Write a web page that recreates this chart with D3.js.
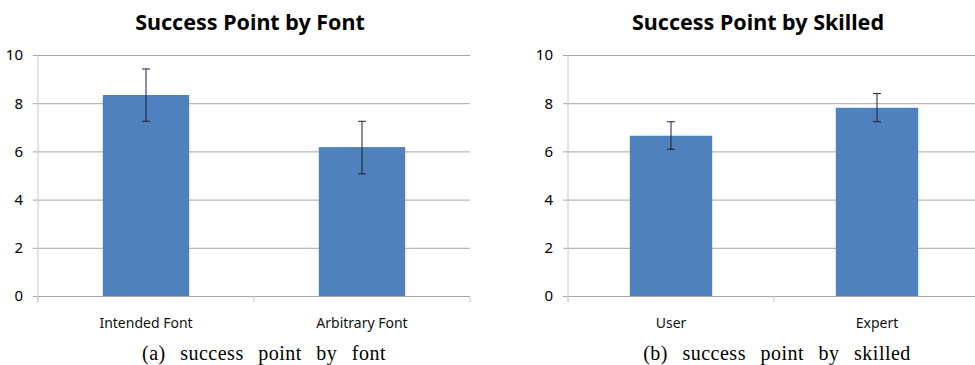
<!DOCTYPE html>
<html><head><meta charset="utf-8">
<script src="https://cdn.jsdelivr.net/npm/d3@7"></script>
<style>body{margin:0;background:#fff;}svg{display:block;}</style>
</head><body>
<svg id="c" width="975" height="365"></svg>
<script>
const yTicks = [0, 2, 4, 6, 8, 10];

const fontCategories = ["Intended Font", "Arbitrary Font"];
const fontMeans = [8.34, 6.18];
const fontErrLow = [7.25, 5.07];
const fontErrHigh = [9.42, 7.25];

const skilledCategories = ["User", "Expert"];
const skilledMeans = [6.65, 7.81];
const skilledErrLow = [6.09, 7.23];
const skilledErrHigh = [7.23, 8.40];

const titles = ["Success Point by Font", "Success Point by Skilled"];
const captions = ["(a) success point by font", "(b) success point by skilled"];

const svg = d3.select("#c");
const y = d3.scaleLinear().domain([0, 10]).range([296, 55]);

function panel(cfg) {
  const g = svg.append("g");
  const x = d3.scaleBand().domain(cfg.cats).range([cfg.x0, cfg.x1]).paddingInner(0.6).paddingOuter(0.3);
  const gridLeft = cfg.x0 - 5;

  // gridlines + y labels
  const ax = g.append("g").attr("transform", `translate(${gridLeft},0)`)
    .call(d3.axisLeft(y).tickValues(yTicks).tickFormat(d3.format("d"))
      .tickSize(-(cfg.x1 - gridLeft)).tickPadding(10));
  ax.select(".domain").remove();
  ax.selectAll(".tick line").attr("stroke", "#a6a6a6").attr("stroke-width", 1);
  ax.selectAll(".tick text").attr("fill", "#000").style("font-family", "'Noto Sans', sans-serif").style("font-size", "15px");

  // vertical axis line
  g.append("line").attr("x1", cfg.x0).attr("x2", cfg.x0).attr("y1", y(10)).attr("y2", y(0) + 6)
    .attr("stroke", "#c8c8c8");

  // category boundary ticks
  const step = x.step();
  const bounds = d3.range(cfg.cats.length + 1).map(i => cfg.x0 + i * step);
  g.selectAll(".bt").data(bounds).join("line")
    .attr("x1", d => d).attr("x2", d => d).attr("y1", y(0)).attr("y2", y(0) + 6)
    .attr("stroke", "#c8c8c8");

  // bars
  g.selectAll(".bar").data(cfg.cats).join("rect")
    .attr("x", d => x(d)).attr("width", x.bandwidth())
    .attr("y", (d, i) => y(cfg.means[i])).attr("height", (d, i) => y(0) - y(cfg.means[i]))
    .attr("fill", "#4f81bd");

  // error bars
  const eb = g.selectAll(".eb").data(cfg.cats).join("g")
    .attr("transform", d => `translate(${x(d) + x.bandwidth() / 2},0)`);
  eb.append("line").attr("y1", (d, i) => y(cfg.lo[i])).attr("y2", (d, i) => y(cfg.hi[i]))
    .attr("stroke", "#1c1c3a").attr("stroke-width", 1);
  eb.append("line").attr("x1", -4).attr("x2", 4).attr("y1", (d, i) => y(cfg.lo[i])).attr("y2", (d, i) => y(cfg.lo[i]))
    .attr("stroke", "#1c1c3a");
  eb.append("line").attr("x1", -4).attr("x2", 4).attr("y1", (d, i) => y(cfg.hi[i])).attr("y2", (d, i) => y(cfg.hi[i]))
    .attr("stroke", "#1c1c3a");

  // x labels
  g.selectAll(".xl").data(cfg.cats).join("text")
    .attr("x", d => x(d) + x.bandwidth() / 2).attr("y", 328)
    .attr("text-anchor", "middle")
    .style("font-family", "'Noto Sans', sans-serif").style("font-size", "14px")
    .attr("fill", "#111").text(d => d);

  // title
  g.append("text").attr("x", cfg.titleX).attr("y", 30).attr("text-anchor", "middle")
    .style("font-family", "'Noto Sans', sans-serif").style("font-size", "21.5px").style("font-weight", "bold")
    .attr("fill", "#000").text(cfg.title);

  // caption
  g.append("text").attr("x", cfg.capX).attr("y", 360).attr("text-anchor", "middle")
    .style("font-family", "'Liberation Serif', serif").style("font-size", "20px")
    .style("letter-spacing", "0.5px").style("word-spacing", "9px")
    .attr("fill", "#000").text(cfg.caption);
}

panel({ cats: fontCategories, means: fontMeans, lo: fontErrLow, hi: fontErrHigh,
  x0: 38, x1: 470, title: titles[0], titleX: 250, caption: captions[0], capX: 264 });
panel({ cats: skilledCategories, means: skilledMeans, lo: skilledErrLow, hi: skilledErrHigh,
  x0: 568, x1: 980, title: titles[1], titleX: 758, caption: captions[1], capX: 777 });
</script>
</body></html>
